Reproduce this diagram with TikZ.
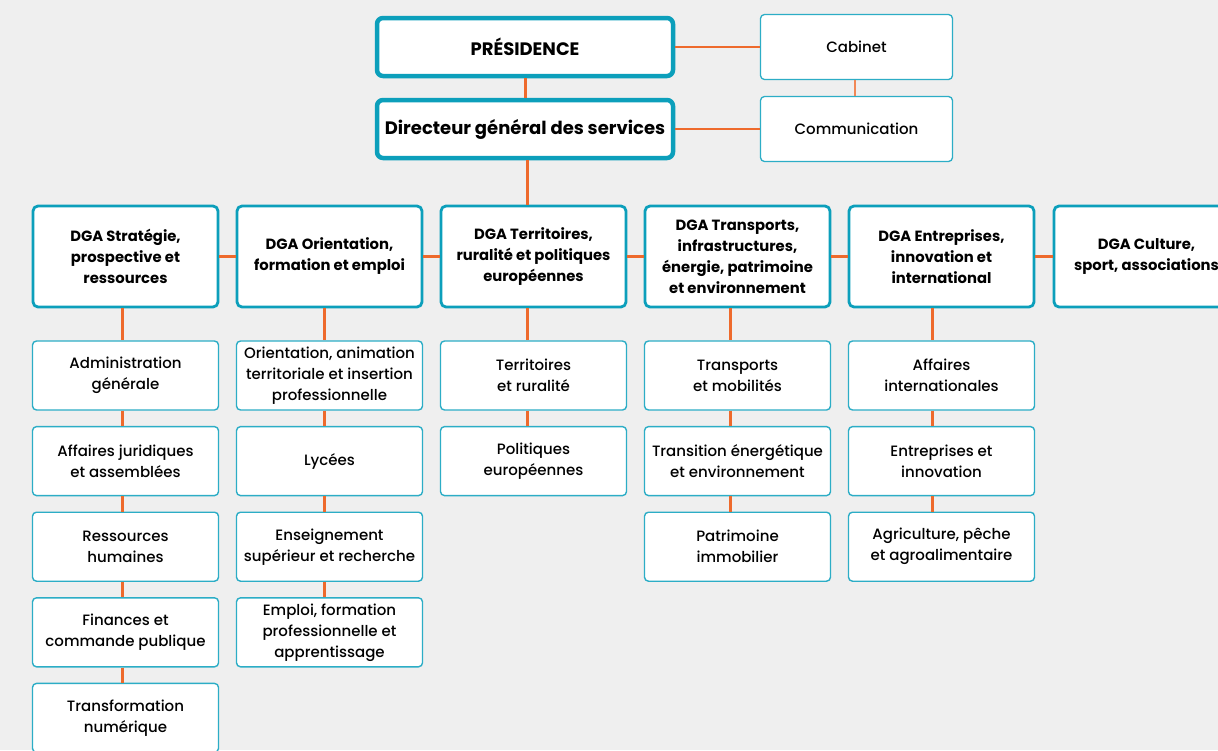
\documentclass[tikz,border=0pt]{standalone}
\usepackage{fontspec}
\setmainfont{Poppins}[UprightFont=* Medium,BoldFont=* Bold]
\definecolor{cadre}{HTML}{0C9FBB}
\definecolor{cadreclair}{HTML}{2CADC6}
\definecolor{lien}{HTML}{EE6A2C}
\definecolor{fond}{HTML}{EFEFEF}
\begin{document}
\begin{tikzpicture}[x=1pt,y=-1pt,line join=round,
	base/.style={fill=white,align=center,inner sep=0pt,text=black},
	tete/.style={base,draw=cadre,line width=4.5pt,rounded corners=6pt,minimum width=296,minimum height=58,font=\fontsize{18}{21}\selectfont\bfseries},
	annexe/.style={base,draw=cadreclair,line width=1.3pt,rounded corners=4pt,minimum width=192,minimum height=65,font=\fontsize{15}{21}\selectfont},
	dga/.style={base,draw=cadre,line width=2.8pt,rounded corners=5pt,minimum width=185,minimum height=101,font=\fontsize{14.8}{21}\selectfont\bfseries},
	sub/.style={base,draw=cadreclair,line width=1.4pt,rounded corners=4pt,minimum width=186,minimum height=69,font=\fontsize{15}{21}\selectfont},
	lien/.style={draw=lien,line width=3pt},
	fin/.style={draw=lien,line width=1.8pt}]
	\fill [fond] (0,0) rectangle (1218,750);
	\useasboundingbox (0,0) rectangle (1218,750);
	\clip (0,0) rectangle (1218,750);
	% direction
	\node [tete] (pres) at (525,47) {PRÉSIDENCE};
	\node [tete] (dgs) at (525,129) {Directeur général des services};
	\node [annexe] (cab) at (856.5,47) {Cabinet};
	\node [annexe] (com) at (856.5,129) {Communication};
	\draw [lien] (pres.south) -- (dgs.north);
	\draw [fin] (pres.east) -- (cab.west);
	\draw [fin] (dgs.east) -- (com.west);
	\draw [fin,lien!80,line width=1.3pt] ([xshift=-1.5]cab.south) -- ([xshift=-1.5]com.north);
	% DGA
	\node [dga] (dga1) at (125.5,256.5) {DGA Stratégie,\\prospective et\\ressources};
	\node [dga] (dga2) at (329.5,256.5) {DGA Orientation,\\formation et emploi};
	\node [dga] (dga3) at (533.5,256.5) {DGA Territoires,\\ruralité et politiques\\européennes};
	\node [dga] (dga4) at (737.5,256.5) {DGA Transports,\\infrastructures,\\énergie, patrimoine\\et environnement};
	\node [dga] (dga5) at (941.5,256.5) {DGA Entreprises,\\innovation et\\international};
	\node [dga] (dga6) at (1146.5,256.5) {DGA Culture,\\sport, associations};
	\draw [lien] ([xshift=2]dgs.south) -- ([xshift=-6.5]dga3.north);
	\foreach \a/\b in {1/2,2/3,3/4,4/5,5/6}
		\draw [lien] (dga\a.east) -- (dga\b.west);
	% services
	\foreach \t [count=\i] in {{Administration\\générale},{Affaires juridiques\\et assemblées},{Ressources\\humaines},{Finances et\\commande publique},{Transformation\\numérique}}
		\node [sub] (s1\i) at (125.5,{375.5+(\i-1)*85.6}) {\t};
	\foreach \t [count=\i] in {{Orientation, animation\\territoriale et insertion\\professionnelle},{Lycées},{Enseignement\\supérieur et recherche},{Emploi, formation\\professionnelle et\\apprentissage}}
		\node [sub] (s2\i) at (329.5,{375.5+(\i-1)*85.6}) {\t};
	\foreach \t [count=\i] in {{Territoires\\et ruralité},{Politiques\\européennes}}
		\node [sub] (s3\i) at (533.5,{375.5+(\i-1)*85.6}) {\t};
	\foreach \t [count=\i] in {{Transports\\et mobilités},{Transition énergétique\\et environnement},{Patrimoine\\immobilier}}
		\node [sub] (s4\i) at (737.5,{375.5+(\i-1)*85.6}) {\t};
	\foreach \t [count=\i] in {{Affaires\\internationales},{Entreprises et\\innovation},{Agriculture, pêche\\et agroalimentaire}}
		\node [sub] (s5\i) at (941.5,{375.5+(\i-1)*85.6}) {\t};
	\foreach \c/\n/\dx in {1/5/-3.5,2/4/-5.5,3/2/-6.5,4/3/-7.5,5/3/-9.5}{
		\draw [lien] ([xshift=\dx]dga\c.south) -- ([xshift=\dx]s\c1.north);
		\foreach \i [evaluate=\i as \j using int(\i+1)] in {1,...,\numexpr\n-1\relax}
			\draw [lien] ([xshift=\dx]s\c\i.south) -- ([xshift=\dx]s\c\j.north);
	}
\end{tikzpicture}
\end{document}
